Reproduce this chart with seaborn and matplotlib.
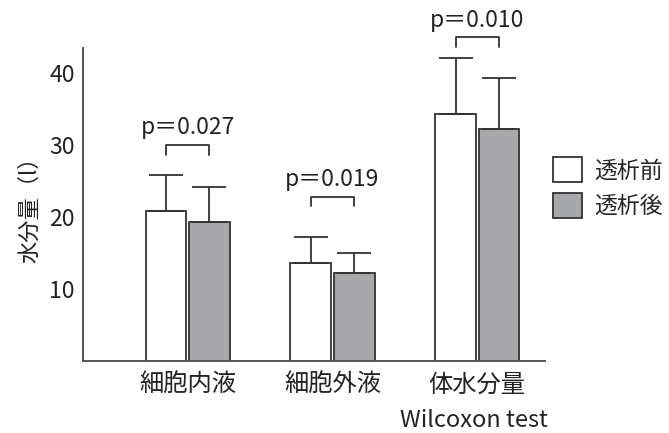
import pandas as pd
import numpy as np
import matplotlib
matplotlib.use('Agg')
import matplotlib.pyplot as plt
import seaborn as sns

# data
categories = ['細胞内液', '細胞外液', '体水分量']
groups = ['透析前', '透析後']
before_mean = [20.8, 13.6, 34.3]
after_mean = [19.3, 12.2, 32.2]
before_sd = [5.0, 3.6, 7.8]
after_sd = [4.9, 2.8, 7.1]
p_labels = ['p＝0.027', 'p＝0.019', 'p＝0.010']
bracket_y = [30.0, 22.8, 45.0]

sns.set_style('white')
plt.rcParams['font.family'] = ['Noto Sans CJK JP', 'DejaVu Sans']

df = pd.DataFrame({
    'category': categories * 2,
    'group': [groups[0]] * 3 + [groups[1]] * 3,
    'value': before_mean + after_mean,
})

fig = plt.figure(figsize=(6.69, 4.33), dpi=100)
ax = fig.add_axes([0.124, 0.166, 0.691, 0.723])

sns.barplot(data=df, x='category', y='value', hue='group', order=categories,
            hue_order=groups, palette={groups[0]: 'white', groups[1]: '#a7a8ab'},
            width=0.6, gap=0.06, errorbar=None, edgecolor='#333333',
            linewidth=1.3, ax=ax, legend=False)

# upper error bars only
line_col = '#333333'
for cont, sds in zip(ax.containers, [before_sd, after_sd]):
    for bar, sd in zip(cont, sds):
        cx = bar.get_x() + bar.get_width() / 2
        h = bar.get_height()
        ax.errorbar(cx, h, yerr=[[0], [sd]], fmt='none', ecolor=line_col,
                    elinewidth=1.3, capsize=12, capthick=1.3, zorder=3)

# significance brackets
for i in range(len(categories)):
    b0 = ax.containers[0][i]
    b1 = ax.containers[1][i]
    x0 = b0.get_x() + b0.get_width() / 2
    x1 = b1.get_x() + b1.get_width() / 2
    y = bracket_y[i]
    ax.plot([x0, x0, x1, x1], [y - 1.3, y, y, y - 1.3], color=line_col,
            lw=1.3, clip_on=False)
    ax.text((x0 + x1) / 2, y + 0.8, p_labels[i], ha='center', va='bottom',
            fontsize=16.5, color='#222222', clip_on=False)

ax.set_ylim(0, 43.5)
ax.set_xlim(-0.724, 2.47)
ax.set_yticks([10, 20, 30, 40])
ax.set_xlabel('')
ax.set_ylabel('水分量（l）', fontsize=16, color='#222222', labelpad=6)
ax.tick_params(axis='y', direction='in', length=11, width=1.3, color='#555555',
               labelsize=16.5, labelcolor='#222222', pad=6)
ax.tick_params(axis='x', length=0, labelsize=17.5, labelcolor='#222222', pad=8)
sns.despine(ax=ax)
for s in ['left', 'bottom']:
    ax.spines[s].set_color('#555555')
    ax.spines[s].set_linewidth(1.4)

# legend outside the axes
handles = [plt.Rectangle((0, 0), 1, 1, facecolor='white', edgecolor='#333333', lw=1.3),
           plt.Rectangle((0, 0), 1, 1, facecolor='#a7a8ab', edgecolor='#333333', lw=1.3)]
fig.legend(handles, groups, loc='upper left', bbox_to_anchor=(0.826, 0.637),
           frameon=False, fontsize=16.5, handlelength=1.3, handleheight=1.3,
           labelspacing=0.45, handletextpad=0.5, borderpad=0, borderaxespad=0)

fig.text(0.819, 0.03, 'Wilcoxon test', ha='right', va='center', fontsize=17,
         color='#222222')

fig.savefig('out.png', dpi=100)
